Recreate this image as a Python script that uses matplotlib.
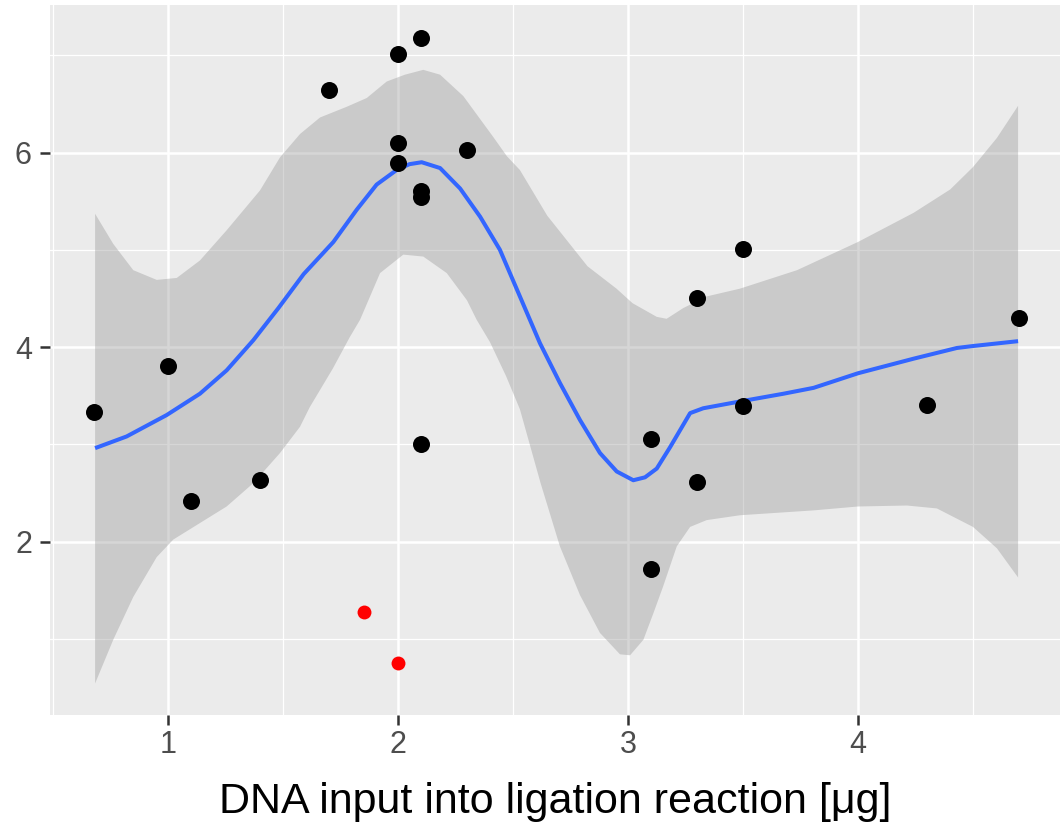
import numpy as np
import matplotlib
matplotlib.use("Agg")
from matplotlib import pyplot as plt

# Observed points
dna_input = [0.68, 1.0, 1.1, 1.4, 1.7, 2.0, 2.1, 2.0, 2.0, 2.1, 2.1, 2.3, 2.1,
             3.1, 3.1, 3.3, 3.3, 3.5, 3.5, 4.3, 4.7]
response = [3.33, 3.80, 2.42, 2.63, 6.64, 7.01, 7.18, 6.10, 5.89, 5.60, 5.54, 6.03, 3.00,
            3.05, 1.72, 4.50, 2.61, 5.01, 3.39, 3.40, 4.30]
outlier_x = [1.85, 2.0]
outlier_y = [1.27, 0.75]

# Loess fit
fit_x = [0.683, 0.82, 0.994, 1.139, 1.255, 1.371, 1.48, 1.59, 1.719, 1.82, 1.907,
         1.994, 2.05, 2.103, 2.183, 2.27, 2.357, 2.443, 2.53, 2.617, 2.704, 2.791,
         2.878, 2.951, 3.023, 3.074, 3.125, 3.183, 3.27, 3.327, 3.487, 3.677, 3.807,
         4.0, 4.242, 4.43, 4.5, 4.696]
fit_y = [2.96, 3.08, 3.30, 3.52, 3.76, 4.07, 4.40, 4.75, 5.08, 5.41, 5.67,
         5.82, 5.88, 5.90, 5.84, 5.63, 5.34, 5.00, 4.52, 4.04, 3.63, 3.25,
         2.91, 2.72, 2.63, 2.66, 2.75, 2.97, 3.32, 3.37, 3.44, 3.52, 3.58,
         3.73, 3.88, 3.99, 4.01, 4.06]

# Confidence band edges
upper_x = [0.683, 0.762, 0.849, 0.951, 1.038, 1.139, 1.255, 1.40, 1.487, 1.574,
           1.661, 1.777, 1.864, 1.951, 2.03, 2.11, 2.183, 2.284, 2.414, 2.474, 2.53,
           2.649, 2.824, 2.95, 3.02, 3.125, 3.168, 3.24, 3.342, 3.487, 3.735, 4.0,
           4.242, 4.401, 4.5, 4.604, 4.696]
upper_y = [5.37, 5.06, 4.79, 4.69, 4.71, 4.89, 5.20, 5.61, 5.95, 6.19,
           6.36, 6.47, 6.56, 6.73, 6.80, 6.85, 6.80, 6.58, 6.16, 5.96, 5.82,
           5.35, 4.83, 4.60, 4.45, 4.31, 4.29, 4.40, 4.52, 4.60, 4.79, 5.08,
           5.38, 5.62, 5.85, 6.15, 6.48]
lower_x = [0.683, 0.762, 0.849, 0.951, 1.023, 1.139, 1.255, 1.371, 1.487, 1.574,
           1.616, 1.717, 1.79, 1.835, 1.922, 2.023, 2.11, 2.212, 2.30, 2.342, 2.40,
           2.47, 2.53, 2.62, 2.704, 2.791, 2.878, 2.965, 3.009, 3.067, 3.11, 3.153,
           3.212, 3.27, 3.342, 3.487, 3.807, 4.0, 4.213, 4.343, 4.5, 4.604, 4.696]
lower_y = [0.54, 0.99, 1.43, 1.84, 2.02, 2.19, 2.36, 2.60, 2.91, 3.18,
           3.38, 3.78, 4.10, 4.28, 4.76, 4.95, 4.93, 4.76, 4.48, 4.28, 4.05,
           3.70, 3.36, 2.60, 1.95, 1.45, 1.06, 0.84, 0.83, 0.99, 1.26, 1.54,
           1.95, 2.15, 2.22, 2.27, 2.32, 2.36, 2.37, 2.34, 2.15, 1.93, 1.63]

x_ticks = [1, 2, 3, 4]
y_ticks = [2, 4, 6]

plt.rcParams["font.family"] = ["Liberation Sans", "DejaVu Sans"]

W, H = 1060, 823
fig = plt.figure(figsize=(W / 100, H / 100), dpi=100)
ax = fig.add_axes([50 / W, 1 - 715 / H, 1 - 50 / W, 710 / H])
ax.set_facecolor("#EBEBEB")
for s in ax.spines.values():
    s.set_visible(False)

# ggplot-style grid
ax.set_xticks(x_ticks)
ax.set_yticks(y_ticks)
ax.set_xticks([0.5, 1.5, 2.5, 3.5, 4.5], minor=True)
ax.set_yticks([1, 3, 5, 7], minor=True)
ax.grid(which="major", color="white", linewidth=1.8)
ax.grid(which="minor", color="white", linewidth=0.9)
ax.set_axisbelow(True)

# Band, fit and points
band_x = np.r_[upper_x, lower_x[::-1]]
band_y = np.r_[upper_y, lower_y[::-1]]
ax.fill(band_x, band_y, color="#999999", alpha=0.4, linewidth=0, zorder=2)
ax.plot(fit_x, fit_y, color="#3366FF", linewidth=2.9, zorder=3,
        solid_capstyle="butt", solid_joinstyle="round")
ax.scatter(dna_input, response, s=150, color="black", linewidths=0, zorder=4)
ax.scatter(outlier_x, outlier_y, s=100, color="red", linewidths=0, zorder=4)

ax.set_xlim(1 + (50 - 168) / 230, 1 + (1060 - 168) / 230)
ax.set_ylim((736 - 715) / 97.25, (736 - 5) / 97.25)

ax.tick_params(which="major", length=7, width=1.8, color="#333333",
               labelsize=22, labelcolor="#4D4D4D")
ax.tick_params(axis="x", pad=4)
ax.tick_params(axis="y", pad=6)
ax.tick_params(which="minor", length=0)
ax.set_xlabel("DNA input into ligation reaction [\u03bcg]", fontsize=31,
              color="black", labelpad=16)

fig.savefig("out.png", dpi=100)
